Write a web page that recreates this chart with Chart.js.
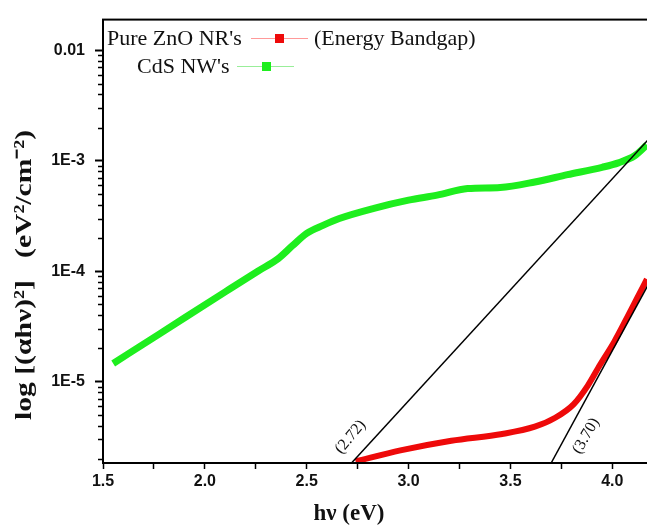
<!DOCTYPE html>
<html>
<head>
<meta charset="utf-8">
<script src="https://cdn.jsdelivr.net/npm/chart.js@4/dist/chart.umd.min.js"></script>
<style>
html, body { margin: 0; padding: 0; background: #fff; overflow: hidden; }
#wrap { position: absolute; left: 0; top: 0; width: 660px; height: 530px; }
</style>
</head>
<body>
<div id="wrap"><canvas id="bandgapChart"></canvas></div>
<script>
// CdS NW's (green)
const cdsX = [1.55, 1.77, 2.10, 2.26, 2.36, 2.43, 2.50, 2.58, 2.66, 2.83, 3.00, 3.14, 3.29, 3.45, 3.62, 3.78, 3.95, 4.03, 4.11, 4.17];
const cdsY = [1.46e-5, 2.65e-5, 6.5e-5, 1.0e-4, 1.3e-4, 1.7e-4, 2.2e-4, 2.6e-4, 3.0e-4, 3.71e-4, 4.40e-4, 4.88e-4, 5.6e-4, 5.73e-4, 6.43e-4, 7.48e-4, 8.73e-4, 9.58e-4, 1.11e-3, 1.39e-3];

// Pure ZnO NR's (red)
const znoX = [2.74, 2.96, 3.21, 3.46, 3.62, 3.72, 3.81, 3.88, 3.94, 4.01, 4.07, 4.12, 4.17];
const znoY = [1.89e-6, 2.38e-6, 2.91e-6, 3.35e-6, 3.9e-6, 4.7e-6, 6.22e-6, 9.2e-6, 1.42e-5, 2.3e-5, 3.71e-5, 5.6e-5, 8.47e-5];

// tangent (bandgap) lines
const fit1X = [2.72, 4.2];
const fit1Y = [1.83e-6, 1.73e-3];
const fit2X = [3.70, 4.2];
const fit2Y = [1.83e-6, 9.06e-5];
const fitLabels = ['(2.72)', '(3.70)'];

const seriesNames = ["Pure ZnO NR's", "CdS NW's"];
const legendNote = '(Energy Bandgap)';

const yMajor = [1e-5, 1e-4, 1e-3, 1e-2];
const xTitle = 'h\u03bd (eV)';
const yTitle = 'log [(\u03b1h\u03bd)\u00b2]   (eV\u00b2/cm\u207b\u00b2)';

function toXY(xs, ys) {
    return xs.map((x, i) => ({ x: x, y: ys[i] }));
}

const serif = "'Liberation Serif', 'Times New Roman', serif";

// frame, minor ticks, legend, titles and fit labels
const extras = {
    id: 'extras',
    afterDraw(chart) {
        const ctx = chart.ctx;
        const a = chart.chartArea;
        const xs = chart.scales.x;
        const ys = chart.scales.y;
        ctx.save();

        ctx.strokeStyle = '#000';
        ctx.lineWidth = 2;
        ctx.strokeRect(a.left, a.top, a.right - a.left, a.bottom - a.top);

        // minor log ticks
        ctx.lineWidth = 1.5;
        ctx.beginPath();
        for (let e = -6; e <= -2; e++) {
            for (let m = 2; m <= 9; m++) {
                const v = m * Math.pow(10, e);
                if (v < ys.min || v > ys.max) continue;
                const py = Math.round(ys.getPixelForValue(v)) + 0.5;
                ctx.moveTo(a.left - 5, py);
                ctx.lineTo(a.left, py);
            }
        }
        ctx.stroke();

        // legend
        ctx.fillStyle = '#111';
        ctx.font = '22px ' + serif;
        ctx.textBaseline = 'alphabetic';
        ctx.textAlign = 'left';
        ctx.fillText(seriesNames[0], 107, 45);
        ctx.fillText(legendNote, 314, 45);
        ctx.fillText(seriesNames[1], 137, 73);
        ctx.lineWidth = 1;
        ctx.strokeStyle = '#f99';
        ctx.beginPath(); ctx.moveTo(251, 38.5); ctx.lineTo(308, 38.5); ctx.stroke();
        ctx.fillStyle = '#ee0a0a';
        ctx.fillRect(275, 34, 9, 9);
        ctx.strokeStyle = '#9e9';
        ctx.beginPath(); ctx.moveTo(237, 66.5); ctx.lineTo(294, 66.5); ctx.stroke();
        ctx.fillStyle = '#1eee1e';
        ctx.fillRect(262, 62, 9, 9);

        // fit labels
        ctx.fillStyle = '#111';
        ctx.font = '16px ' + serif;
        ctx.textAlign = 'center';
        ctx.textBaseline = 'middle';
        ctx.save();
        ctx.translate(xs.getPixelForValue(fit1X[0]) - 1, a.bottom - 26);
        ctx.rotate(-50 * Math.PI / 180);
        ctx.fillText(fitLabels[0], 0, 0);
        ctx.restore();
        ctx.save();
        ctx.translate(xs.getPixelForValue(fit2X[0]) + 35, a.bottom - 27);
        ctx.rotate(-60 * Math.PI / 180);
        ctx.fillText(fitLabels[1], 0, 0);
        ctx.restore();

        // axis titles
        ctx.font = 'bold 23px ' + serif;
        ctx.fillText(xTitle, 349, 514);
        ctx.save();
        ctx.translate(25, 275);
        ctx.rotate(-Math.PI / 2);
        ctx.font = 'bold 24px ' + serif;
        const w = ctx.measureText(yTitle).width;
        ctx.scale(290 / w, 1);
        ctx.fillText(yTitle, 0, 0);
        ctx.restore();

        ctx.restore();
    }
};

const ctx = document.getElementById('bandgapChart').getContext('2d');
const chart = new Chart(ctx, {
    type: 'line',
    data: {
        datasets: [
            {
                label: 'fit1',
                data: toXY(fit1X, fit1Y),
                borderColor: '#000',
                borderWidth: 1.5,
                pointRadius: 0,
                order: 0
            },
            {
                label: 'fit2',
                data: toXY(fit2X, fit2Y),
                borderColor: '#000',
                borderWidth: 1.5,
                pointRadius: 0,
                order: 0
            },
            {
                label: seriesNames[0],
                data: toXY(znoX, znoY),
                borderColor: '#ee0a0a',
                borderWidth: 6,
                pointRadius: 0,
                cubicInterpolationMode: 'monotone',
                order: 1
            },
            {
                label: seriesNames[1],
                data: toXY(cdsX, cdsY),
                borderColor: '#1eee1e',
                borderWidth: 7,
                pointRadius: 0,
                cubicInterpolationMode: 'monotone',
                order: 1
            }
        ]
    },
    options: {
        responsive: true,
        maintainAspectRatio: false,
        animation: false,
        layout: {
            padding: { top: 14, right: 7, left: 0, bottom: 0 }
        },
        plugins: {
            legend: { display: false },
            tooltip: { enabled: false }
        },
        scales: {
            x: {
                type: 'linear',
                min: 1.5,
                max: 4.2,
                grid: {
                    display: true,
                    drawOnChartArea: false,
                    tickLength: 6,
                    tickColor: '#000',
                    tickWidth: 1.5
                },
                border: { display: true, color: '#000', width: 2 },
                ticks: {
                    stepSize: 0.25,
                    includeBounds: false,
                    autoSkip: false,
                    maxRotation: 0,
                    padding: 3,
                    color: '#111',
                    font: { family: "'Liberation Sans', Arial, sans-serif", size: 16, weight: 'bold' },
                    callback: v => Math.abs(v * 2 - Math.round(v * 2)) < 1e-6 ? v.toFixed(1) : ''
                },
                afterFit: s => { s.height = 67; }
            },
            y: {
                type: 'logarithmic',
                min: 1.83e-6,
                max: 0.019,
                grid: {
                    display: true,
                    drawOnChartArea: false,
                    tickLength: 8,
                    tickColor: '#000',
                    tickWidth: 2
                },
                border: { display: true, color: '#000', width: 2 },
                afterBuildTicks: s => { s.ticks = yMajor.map(v => ({ value: v })); },
                ticks: {
                    autoSkip: false,
                    padding: 10,
                    color: '#111',
                    font: { family: "'Liberation Sans', Arial, sans-serif", size: 16, weight: 'bold' },
                    callback: v => v >= 0.01 ? '0.01' : '1E' + Math.round(Math.log10(v))
                },
                afterFit: s => { s.width = 103; }
            }
        }
    },
    plugins: [extras]
});
</script>
</body>
</html>
